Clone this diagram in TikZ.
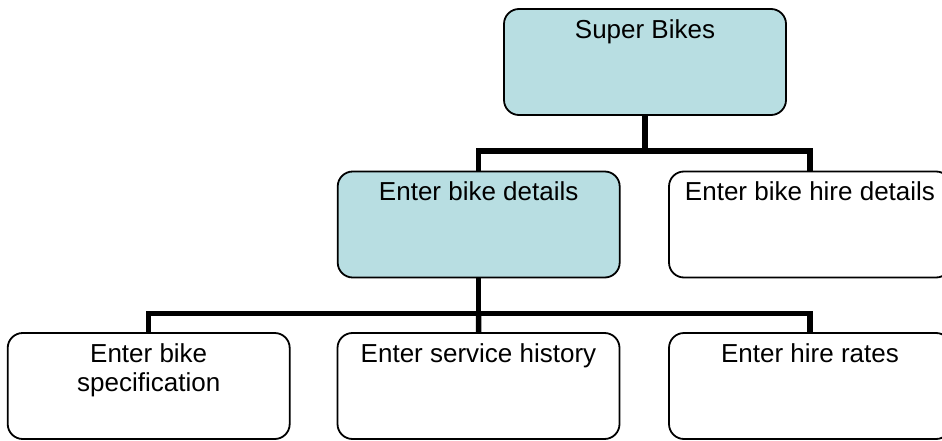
\documentclass[tikz,border=0pt]{standalone}
\usepackage{fontspec}
\setmainfont{Liberation Sans}
\definecolor{boxblue}{RGB}{184,222,226}
\begin{document}
\begin{tikzpicture}[x=1pt,y=1pt,
  box/.style={draw=black, line width=1.8pt, rounded corners=15pt, minimum width=282pt, minimum height=106pt, inner sep=0pt, fill=white},
  bluebox/.style={box, fill=boxblue},
  boxtext/.style={anchor=base, align=center, inner sep=0pt, font=\fontsize{26}{29}\selectfont},
  conn/.style={draw=black, line width=5.5pt, line join=miter, line cap=butt}]
\useasboundingbox (0,0) rectangle (942,-441);
\clip (0,0) rectangle (942,-441);
% boxes
\node[bluebox] (p)  at (645,-62) {};
\node[bluebox] (c1) at (478.7,-224.5) {};
\node[box]     (c2) at (810,-224.5) {};
\node[box]     (g1) at (148.7,-386) {};
\node[box]     (g2) at (478.5,-386) {};
\node[box]     (g3) at (810,-386) {};
% texts
\node[boxtext] (tp)  at ([yshift=-30pt]p.north)  {Super Bikes};
\node[boxtext] (tc1) at ([yshift=-30pt]c1.north) {Enter bike details};
\node[boxtext] (tc2) at ([yshift=-30pt]c2.north) {Enter bike hire details};
\node[boxtext] (tg1) at ([yshift=-59pt]g1.north) {Enter bike\\specification};
\node[boxtext] (tg2) at ([yshift=-30pt]g2.north) {Enter service history};
\node[boxtext] (tg3) at ([yshift=-30pt]g3.north) {Enter hire rates};
% junctions
\coordinate (j1) at ([yshift=-35pt]p.south);
\coordinate (j2) at ([yshift=-35pt]c1.south);
% connectors
\draw[conn] (p.south) -- (j1);
\draw[conn] (c1.north) |- (j1) -| (c2.north);
\draw[conn] (c1.south) -- (j2);
\draw[conn] (g1.north) |- (j2) -| (g3.north);
\draw[conn] (j2) -- (g2.north);
\end{tikzpicture}
\end{document}
